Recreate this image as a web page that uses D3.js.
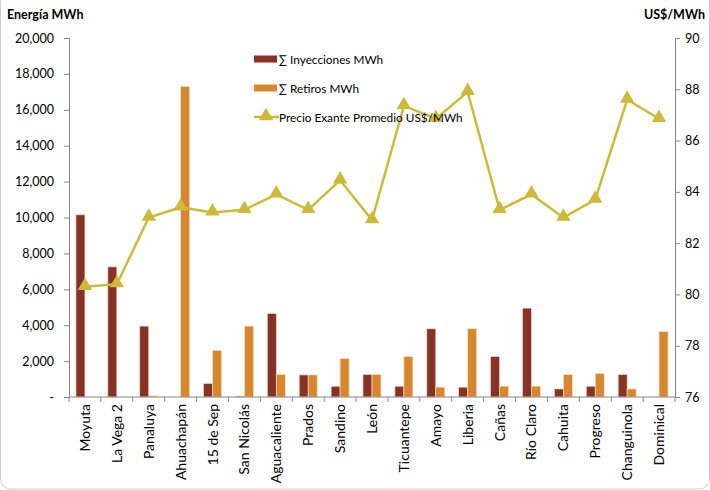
<!DOCTYPE html>
<html><head><meta charset="utf-8">
<script src="https://cdn.jsdelivr.net/npm/d3@7"></script>
<style>
html,body{margin:0;padding:0;background:#fff;}
svg{display:block;font-family:Lato,"Open Sans",sans-serif;}
</style></head>
<body>
<svg id="c" width="710" height="490"></svg>
<script>
const categories = ["Moyuta","La Vega 2","Panaluya","Ahuachapán","15 de Sep","San Nicolás","Aguacaliente","Prados","Sandino","León","Ticuantepe","Amayo","Liberia","Cañas","Río Claro","Cahuita","Progreso","Changuinola","Dominical"];
const inyecciones = [10150,7250,3950,0,750,50,4650,1230,600,1250,600,3800,550,2250,4950,450,600,1250,0];
const retiros = [0,0,60,17300,2600,3950,1250,1230,2150,1250,2250,550,3800,600,600,1250,1300,450,3650];
const precio = [80.3,80.4,83.0,83.4,83.2,83.3,83.9,83.3,84.45,82.9,87.35,86.85,87.9,83.3,83.9,83.0,83.7,87.6,86.85];
const leftTicks = [0,2000,4000,6000,8000,10000,12000,14000,16000,18000,20000];
const rightTicks = [76,78,80,82,84,86,88,90];
const seriesNames = ["∑ Inyecciones MWh","∑ Retiros MWh","Precio Exante Promedio US$/MWh"];
const colors = {iny:"#873224", ret:"#D7872E", line:"#CDBA3A", axis:"#868686"};

const svg = d3.select("#c");
const L=69, R=675, T=38, B=397;

// outer border
svg.append("rect").attr("x",0.5).attr("y",-8).attr("width",709).attr("height",497).attr("rx",10)
  .attr("fill","none").attr("stroke","#d0d0d0");

const x = d3.scaleBand().domain(categories).range([L,R]).paddingInner(0).paddingOuter(0);
const yL = d3.scaleLinear().domain([0,20000]).range([B,T]);
const yR = d3.scaleLinear().domain([76,90]).range([B,T]);
const bw = 9;

// bars
const g = svg.append("g");
g.selectAll(".iny").data(inyecciones).join("rect")
  .attr("x",(d,i)=>x(categories[i])+x.bandwidth()/2-bw)
  .attr("y",d=>yL(d)).attr("width",bw).attr("height",d=>B-yL(d))
  .attr("fill",colors.iny).attr("stroke",d=>d>0?"#f2d6cf":"none").attr("stroke-width",0.7);
g.selectAll(".ret").data(retiros).join("rect")
  .attr("x",(d,i)=>x(categories[i])+x.bandwidth()/2)
  .attr("y",d=>yL(d)).attr("width",bw).attr("height",d=>B-yL(d))
  .attr("fill",colors.ret).attr("stroke",d=>d>0?"#f6dfc4":"none").attr("stroke-width",0.7);

// axes
const fmt = d => d===0 ? "-" : d3.format(",")(d);
const ax = svg.append("g").attr("transform",`translate(${L},0)`)
  .call(d3.axisLeft(yL).tickValues(leftTicks).tickFormat(fmt).tickSize(5).tickPadding(7));
const axR = svg.append("g").attr("transform",`translate(${R},0)`)
  .call(d3.axisRight(yR).tickValues(rightTicks).tickFormat(d3.format("d")).tickSize(5).tickPadding(5));
[ax,axR].forEach(a=>{
  a.select(".domain").attr("stroke",colors.axis);
  a.selectAll(".tick line").attr("stroke",colors.axis);
  a.selectAll("text").attr("font-size",12.5).attr("fill","#000").attr("font-family","Lato,'Open Sans',sans-serif");
});
ax.selectAll(".tick text").attr("dx",-3);

// x axis
const xa = svg.append("g");
xa.append("line").attr("x1",L).attr("x2",R).attr("y1",B).attr("y2",B).attr("stroke",colors.axis);
const bounds = categories.map(c=>x(c)).concat([R]);
xa.selectAll(".xt").data(bounds).join("line")
  .attr("x1",d=>d).attr("x2",d=>d).attr("y1",B).attr("y2",B+5).attr("stroke",colors.axis);
xa.selectAll(".xl").data(categories).join("text")
  .attr("transform",d=>`translate(${x(d)+x.bandwidth()/2+5},${B+7}) rotate(-90)`)
  .attr("text-anchor","end").attr("font-size",14).text(d=>d);

// line
const line = d3.line().x((d,i)=>x(categories[i])+x.bandwidth()/2).y(d=>yR(d));
svg.append("path").datum(precio).attr("d",line).attr("fill","none")
  .attr("stroke",colors.line).attr("stroke-width",2.5);
const tri = d3.symbol().type(d3.symbolTriangle).size(90);
svg.selectAll(".mk").data(precio).join("path")
  .attr("transform",(d,i)=>`translate(${x(categories[i])+x.bandwidth()/2},${yR(d)-1})`)
  .attr("d",tri).attr("fill",colors.line);

// axis titles
svg.append("text").attr("x",7).attr("y",19).attr("font-weight","bold").attr("font-size",12.5).text("Energía MWh");
svg.append("text").attr("x",705).attr("y",19).attr("text-anchor","end").attr("font-weight","bold").attr("font-size",12.5).text("US$/MWh");

// legend
const lg = svg.append("g");
const ly = [59,88,117];
lg.append("rect").attr("x",254).attr("y",ly[0]-3.5).attr("width",23).attr("height",7).attr("fill",colors.iny);
lg.append("rect").attr("x",254).attr("y",ly[1]-3.5).attr("width",23).attr("height",7).attr("fill",colors.ret);
lg.append("line").attr("x1",254).attr("x2",279).attr("y1",ly[2]).attr("y2",ly[2]).attr("stroke",colors.line).attr("stroke-width",2.5);
lg.append("path").attr("transform",`translate(266,${ly[2]-1})`).attr("d",tri).attr("fill",colors.line);
lg.selectAll(".lt").data(seriesNames).join("text")
  .attr("x",279).attr("y",(d,i)=>ly[i]+4.5).attr("font-size",11.8).text(d=>d);
</script>
</body></html>
